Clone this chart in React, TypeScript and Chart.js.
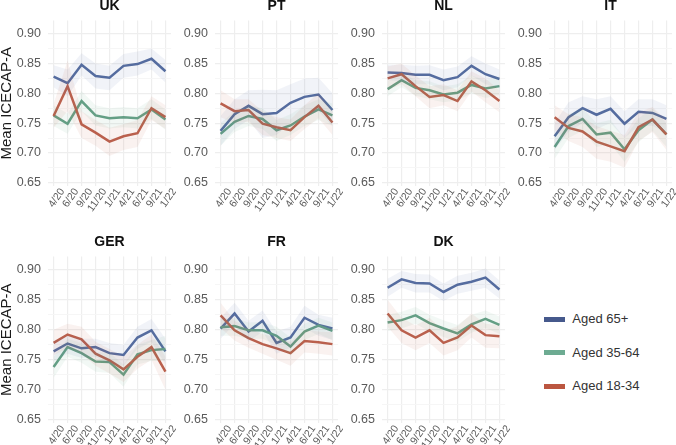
import React, { useEffect, useRef } from "react";
import { Chart, registerables } from "chart.js";

Chart.register(...registerables);

const waves = ["4/20", "6/20", "9/20", "11/20", "1/21", "4/21", "6/21", "9/21", "1/22"];
const yTicks = [0.65, 0.675, 0.7, 0.725, 0.75, 0.775, 0.8, 0.825, 0.85, 0.875, 0.9];
const xTicks = [0, 1, 2, 3, 4, 5, 6, 7, 8];

const ukOld = [0.828, 0.817, 0.848, 0.829, 0.826, 0.846, 0.849, 0.858, 0.837];
const ukOldLo = [0.81, 0.795, 0.83, 0.808, 0.805, 0.826, 0.83, 0.84, 0.818];
const ukOldHi = [0.847, 0.84, 0.867, 0.85, 0.846, 0.866, 0.87, 0.875, 0.856];
const ukMid = [0.763, 0.749, 0.787, 0.763, 0.758, 0.76, 0.758, 0.773, 0.756];
const ukMidLo = [0.745, 0.732, 0.77, 0.746, 0.741, 0.743, 0.741, 0.757, 0.739];
const ukMidHi = [0.78, 0.766, 0.804, 0.78, 0.775, 0.777, 0.775, 0.79, 0.773];
const ukYoung = [0.762, 0.812, 0.748, 0.734, 0.719, 0.728, 0.733, 0.775, 0.76];
const ukYoungLo = [0.742, 0.77, 0.725, 0.712, 0.695, 0.705, 0.71, 0.755, 0.74];
const ukYoungHi = [0.782, 0.855, 0.77, 0.755, 0.742, 0.748, 0.755, 0.795, 0.78];

const ptOld = [0.737, 0.765, 0.779, 0.765, 0.767, 0.784, 0.794, 0.798, 0.772];
const ptOldLo = [0.712, 0.74, 0.755, 0.725, 0.73, 0.75, 0.762, 0.77, 0.745];
const ptOldHi = [0.762, 0.79, 0.805, 0.806, 0.805, 0.815, 0.825, 0.826, 0.8];
const ptMid = [0.732, 0.752, 0.762, 0.757, 0.738, 0.746, 0.761, 0.773, 0.763];
const ptMidLo = [0.712, 0.735, 0.745, 0.74, 0.72, 0.73, 0.745, 0.755, 0.745];
const ptMidHi = [0.75, 0.77, 0.78, 0.775, 0.755, 0.765, 0.78, 0.79, 0.783];
const ptYoung = [0.783, 0.77, 0.772, 0.749, 0.743, 0.738, 0.76, 0.779, 0.751];
const ptYoungLo = [0.76, 0.75, 0.752, 0.73, 0.725, 0.72, 0.74, 0.758, 0.73];
const ptYoungHi = [0.805, 0.79, 0.79, 0.77, 0.76, 0.756, 0.78, 0.8, 0.77];

const nlOld = [0.835, 0.834, 0.831, 0.831, 0.822, 0.827, 0.846, 0.832, 0.824];
const nlOldLo = [0.822, 0.82, 0.815, 0.815, 0.805, 0.81, 0.83, 0.815, 0.808];
const nlOldHi = [0.848, 0.848, 0.846, 0.847, 0.84, 0.845, 0.862, 0.85, 0.84];
const nlMid = [0.807, 0.822, 0.809, 0.805, 0.798, 0.801, 0.814, 0.808, 0.812];
const nlMidLo = [0.795, 0.81, 0.796, 0.79, 0.785, 0.788, 0.8, 0.792, 0.797];
const nlMidHi = [0.82, 0.835, 0.822, 0.82, 0.812, 0.815, 0.83, 0.822, 0.828];
const nlYoung = [0.825, 0.832, 0.812, 0.794, 0.797, 0.787, 0.82, 0.805, 0.787];
const nlYoungLo = [0.805, 0.815, 0.795, 0.775, 0.78, 0.77, 0.803, 0.785, 0.768];
const nlYoungHi = [0.845, 0.85, 0.83, 0.812, 0.815, 0.805, 0.837, 0.825, 0.805];

const itOld = [0.728, 0.76, 0.775, 0.764, 0.774, 0.749, 0.769, 0.767, 0.757];
const itOldLo = [0.705, 0.735, 0.75, 0.74, 0.75, 0.725, 0.745, 0.745, 0.735];
const itOldHi = [0.75, 0.785, 0.795, 0.79, 0.795, 0.77, 0.79, 0.79, 0.78];
const itMid = [0.71, 0.745, 0.757, 0.731, 0.734, 0.706, 0.738, 0.756, 0.731];
const itMidLo = [0.69, 0.725, 0.737, 0.71, 0.715, 0.685, 0.718, 0.737, 0.71];
const itMidHi = [0.73, 0.765, 0.775, 0.75, 0.755, 0.725, 0.758, 0.775, 0.75];
const itYoung = [0.76, 0.742, 0.736, 0.719, 0.711, 0.703, 0.743, 0.756, 0.731];
const itYoungLo = [0.738, 0.72, 0.71, 0.69, 0.685, 0.675, 0.72, 0.735, 0.705];
const itYoungHi = [0.78, 0.765, 0.76, 0.745, 0.737, 0.73, 0.768, 0.777, 0.755];

const gerOld = [0.764, 0.777, 0.769, 0.771, 0.761, 0.758, 0.787, 0.799, 0.764];
const gerOldLo = [0.748, 0.76, 0.753, 0.755, 0.742, 0.74, 0.768, 0.78, 0.742];
const gerOldHi = [0.78, 0.79, 0.785, 0.785, 0.778, 0.775, 0.805, 0.818, 0.785];
const gerMid = [0.738, 0.771, 0.761, 0.747, 0.746, 0.725, 0.759, 0.766, 0.768];
const gerMidLo = [0.72, 0.755, 0.745, 0.73, 0.728, 0.705, 0.742, 0.748, 0.748];
const gerMidHi = [0.755, 0.785, 0.778, 0.762, 0.762, 0.742, 0.775, 0.783, 0.79];
const gerYoung = [0.778, 0.792, 0.784, 0.76, 0.749, 0.734, 0.755, 0.771, 0.73];
const gerYoungLo = [0.757, 0.77, 0.76, 0.74, 0.727, 0.713, 0.735, 0.75, 0.7];
const gerYoungHi = [0.8, 0.81, 0.805, 0.78, 0.768, 0.755, 0.775, 0.792, 0.755];

const frOld = [0.802, 0.827, 0.797, 0.815, 0.778, 0.787, 0.82, 0.808, 0.802];
const frOldLo = [0.785, 0.81, 0.78, 0.797, 0.76, 0.77, 0.803, 0.79, 0.783];
const frOldHi = [0.82, 0.845, 0.815, 0.832, 0.797, 0.805, 0.84, 0.825, 0.82];
const frMid = [0.804, 0.806, 0.799, 0.799, 0.79, 0.772, 0.797, 0.807, 0.798];
const frMidLo = [0.79, 0.79, 0.785, 0.785, 0.775, 0.757, 0.783, 0.793, 0.783];
const frMidHi = [0.818, 0.82, 0.812, 0.813, 0.805, 0.787, 0.81, 0.82, 0.812];
const frYoung = [0.824, 0.799, 0.786, 0.776, 0.769, 0.761, 0.781, 0.779, 0.776];
const frYoungLo = [0.803, 0.782, 0.77, 0.76, 0.75, 0.74, 0.762, 0.76, 0.757];
const frYoungHi = [0.845, 0.815, 0.802, 0.793, 0.787, 0.78, 0.8, 0.797, 0.796];

const dkOld = [0.87, 0.884, 0.878, 0.877, 0.863, 0.875, 0.88, 0.887, 0.867];
const dkOldLo = [0.855, 0.87, 0.862, 0.862, 0.848, 0.86, 0.865, 0.87, 0.852];
const dkOldHi = [0.885, 0.898, 0.893, 0.892, 0.877, 0.89, 0.895, 0.902, 0.882];
const dkMid = [0.812, 0.816, 0.824, 0.811, 0.802, 0.794, 0.809, 0.818, 0.808];
const dkMidLo = [0.798, 0.802, 0.81, 0.797, 0.788, 0.78, 0.795, 0.803, 0.793];
const dkMidHi = [0.825, 0.83, 0.838, 0.825, 0.816, 0.808, 0.825, 0.832, 0.822];
const dkYoung = [0.827, 0.799, 0.787, 0.799, 0.778, 0.787, 0.807, 0.791, 0.789];
const dkYoungLo = [0.805, 0.778, 0.766, 0.778, 0.757, 0.766, 0.787, 0.77, 0.769];
const dkYoungHi = [0.85, 0.82, 0.807, 0.82, 0.798, 0.806, 0.827, 0.81, 0.808];

const BLUE = "#566d9f";
const GREEN = "#659f86";
const RED = "#b9604d";
const FONT = "'Liberation Sans', Arial, sans-serif";

const legendItems = [
  { label: "Aged 65+", color: "#46598c", y: 319.3 },
  { label: "Aged 35-64", color: "#6dab92", y: 352.7 },
  { label: "Aged 18-34", color: "#bb5640", y: 386 },
];

type Band = { line: number[]; lo: number[]; hi: number[]; color: string; fill: string };
type Panel = { title: string; left: number; row: number; yTitle: boolean; bands: Band[] };

const band = (line: number[], lo: number[], hi: number[], color: string, fill: string): Band => ({ line, lo, hi, color, fill });
const trio = (y: number[][]): Band[] => [
  band(y[6], y[7], y[8], RED, "rgba(200,100,80,0.085)"),
  band(y[3], y[4], y[5], GREEN, "rgba(95,160,130,0.08)"),
  band(y[0], y[1], y[2], BLUE, "rgba(80,105,160,0.08)"),
];

const panels: Panel[] = [
  { title: "UK", left: 48, row: 0, yTitle: true, bands: trio([ukOld, ukOldLo, ukOldHi, ukMid, ukMidLo, ukMidHi, ukYoung, ukYoungLo, ukYoungHi]) },
  { title: "PT", left: 215.2, row: 0, yTitle: false, bands: trio([ptOld, ptOldLo, ptOldHi, ptMid, ptMidLo, ptMidHi, ptYoung, ptYoungLo, ptYoungHi]) },
  { title: "NL", left: 381.8, row: 0, yTitle: false, bands: trio([nlOld, nlOldLo, nlOldHi, nlMid, nlMidLo, nlMidHi, nlYoung, nlYoungLo, nlYoungHi]) },
  { title: "IT", left: 549.2, row: 0, yTitle: false, bands: trio([itOld, itOldLo, itOldHi, itMid, itMidLo, itMidHi, itYoung, itYoungLo, itYoungHi]) },
  { title: "GER", left: 48, row: 1, yTitle: true, bands: trio([gerOld, gerOldLo, gerOldHi, gerMid, gerMidLo, gerMidHi, gerYoung, gerYoungLo, gerYoungHi]) },
  { title: "FR", left: 215.2, row: 1, yTitle: false, bands: trio([frOld, frOldLo, frOldHi, frMid, frMidLo, frMidHi, frYoung, frYoungLo, frYoungHi]) },
  { title: "DK", left: 381.8, row: 1, yTitle: false, bands: trio([dkOld, dkOldLo, dkOldHi, dkMid, dkMidLo, dkMidHi, dkYoung, dkYoungLo, dkYoungHi]) },
];

const AXIS_W = 48;
const PLOT_W = 122;
const HEAD = 23.5;
const FOOT = 36;
const rowTop = [-2, 234];
const rowPlotH = [165.5, 166];
const head = HEAD - 1;

function PanelChart({ p }: { p: Panel }) {
  const ref = useRef<HTMLCanvasElement>(null);
  useEffect(() => {
    const points = (a: number[]) => a.map((y, x) => ({ x, y }));
    const datasets: any[] = [];
    p.bands.forEach((b) => {
      datasets.push({ data: points(b.lo), borderWidth: 0, pointRadius: 0, fill: false, borderColor: "transparent" });
      datasets.push({ data: points(b.hi), borderWidth: 0, pointRadius: 0, fill: "-1", backgroundColor: b.fill, borderColor: "transparent" });
    });
    p.bands.forEach((b) => {
      datasets.push({ data: points(b.line), borderColor: b.color, borderWidth: 2.5, pointRadius: 0, fill: false, tension: 0, borderJoinStyle: "miter" });
    });
    const chart = new Chart(ref.current!, {
      type: "line",
      data: { datasets },
      options: {
        animation: false,
        responsive: false,
        layout: { padding: 0 },
        plugins: {
          legend: { display: false },
          tooltip: { enabled: false },
          title: {
            display: true,
            text: p.title,
            color: "#111111",
            fullSize: false,
            font: { family: FONT, size: 14, weight: "bold", lineHeight: 1.2 },
            padding: { top: 0, bottom: head - 16.8 },
          },
        },
        scales: {
          x: {
            type: "linear",
            min: -0.4,
            max: 8.4,
            border: { display: false },
            grid: { color: "#eeeeee", lineWidth: 1.2, drawTicks: false },
            afterBuildTicks: (s: any) => { s.ticks = xTicks.map((value) => ({ value })); },
            afterFit: (s: any) => { s.height = FOOT; },
            ticks: {
              autoSkip: false,
              minRotation: 55,
              maxRotation: 55,
              padding: 0,
              labelOffset: 9,
              color: "#5a5a5a",
              font: { family: FONT, size: 10.5 },
              callback: (v: any) => waves[v],
            },
          },
          y: {
            type: "linear",
            min: 0.6445,
            max: 0.9221,
            border: { display: false },
            grid: {
              drawTicks: false,
              color: (c: any) => (Math.round(c.tick.value * 1000) % 50 === 0 ? "#eeeeee" : "#f5f5f5"),
              lineWidth: (c: any) => (Math.round(c.tick.value * 1000) % 50 === 0 ? 1.2 : 0.9),
            },
            afterBuildTicks: (s: any) => { s.ticks = yTicks.map((value) => ({ value })); },
            afterFit: (s: any) => { s.width = AXIS_W; },
            title: {
              display: p.yTitle,
              text: "Mean ICECAP-A",
              color: "#1a1a1a",
              font: { family: FONT, size: 15 },
              padding: { top: -2, bottom: 0 },
            },
            ticks: {
              autoSkip: false,
              padding: 7,
              color: "#5a5a5a",
              font: { family: FONT, size: 12.5 },
              callback: (v: any) => (Math.round(v * 1000) % 50 === 0 ? Number(v).toFixed(2) : ""),
            },
          },
        },
      } as any,
    });
    return () => chart.destroy();
  }, [p]);
  const w = AXIS_W + PLOT_W + 6;
  const h = head + rowPlotH[p.row] + FOOT;
  const left = p.left - AXIS_W;
  return (
    <canvas
      ref={ref}
      width={w}
      height={Math.round(h)}
      style={{ position: "absolute", left: Math.round(left), top: rowTop[p.row], width: w, height: Math.round(h) }}
    />
  );
}

export default function App() {
  return (
    <div style={{ position: "fixed", left: 0, top: 0, width: 676, height: 445, overflow: "hidden", background: "#ffffff", fontFamily: FONT }}>
      {panels.map((p) => (
        <PanelChart key={p.title} p={p} />
      ))}
      {legendItems.map((it) => (
        <React.Fragment key={it.label}>
          <div style={{ position: "absolute", left: 543.5, top: it.y - 2.5, width: 21, height: 5, background: it.color }} />
          <div style={{ position: "absolute", left: 572.3, top: it.y - 8, height: 16, lineHeight: "16px", fontSize: 13, color: "#333333", whiteSpace: "nowrap" }}>{it.label}</div>
        </React.Fragment>
      ))}
    </div>
  );
}
